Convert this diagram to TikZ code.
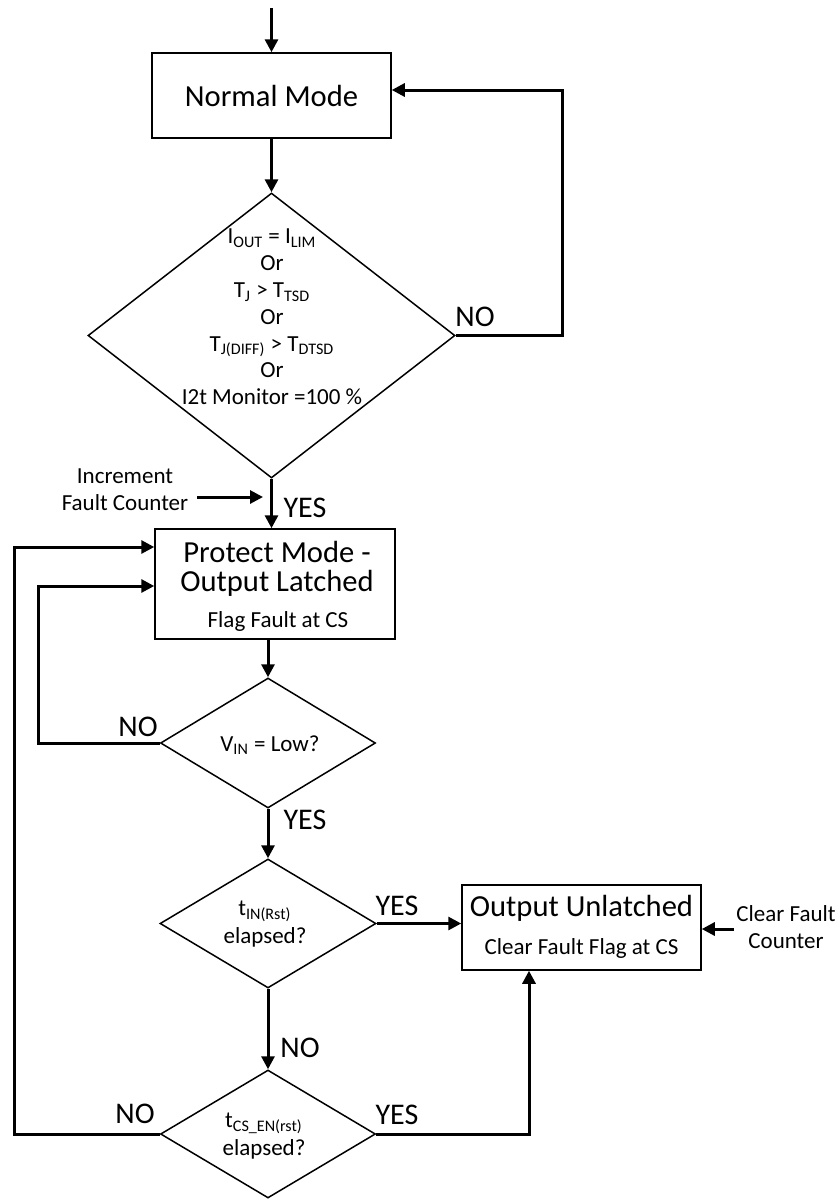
\documentclass[tikz,border=0pt]{standalone}
\usepackage{fontspec}
\setmainfont{Carlito}
\usetikzlibrary{shapes.geometric,arrows.meta,calc}
\begin{document}
\begin{tikzpicture}[x=0.5pt,y=-0.5pt,
  box/.style={draw,line width=0.75pt,rectangle,inner sep=0pt},
  dec/.style={draw,line width=0.75pt,diamond,inner sep=0pt},
  conn/.style={line width=1.5pt,-{Triangle[length=6.5pt,width=6.5pt]}},
  bigtxt/.style={inner sep=0pt,align=center,font=\fontsize{15.3}{18}\selectfont},
  smalltxt/.style={inner sep=0pt,align=center,font=\fontsize{11.5}{13.6}\selectfont},
  lbl/.style={inner sep=0pt,font=\fontsize{15}{18}\selectfont}]
\useasboundingbox (0,0) rectangle (838,1201);

% boxes
\node[box,minimum width=119.5pt,minimum height=42.5pt] (normal) at (271.5,95.5) {};
\node[bigtxt] (normaltxt) at (271.5,96) {Normal Mode};

\node[dec,minimum width=183.5pt,minimum height=142.5pt] (dec1) at (271.5,335.5) {};
\node[smalltxt] (dec1txt) at (272,317) {I\textsubscript{OUT} = I\textsubscript{LIM}\\[-0.2pt]Or\\[-0.2pt]T\textsubscript{J} {>} T\textsubscript{TSD}\\[-0.2pt]Or\\[-0.2pt]T\textsubscript{J(DIFF)} {>} T\textsubscript{DTSD}\\[-0.2pt]Or\\[-0.2pt]I2t Monitor =100 \%};

\node[box,minimum width=120pt,minimum height=55pt] (protect) at (275,584) {};
\node[bigtxt] (p1) at (277,552) {Protect Mode -};
\node[bigtxt] (p2) at (277,583) {Output Latched};
\node[smalltxt] (p3) at (278,621) {Flag Fault at CS};

\node[dec,minimum width=107.5pt,minimum height=65pt] (dec2) at (268,743) {};
\node[smalltxt] (dec2txt) at (270,745) {V\textsubscript{IN} = Low?};

\node[dec,minimum width=108pt,minimum height=64.5pt] (dec3) at (268,923.5) {};
\node[smalltxt] (dec3txt) at (265,924) {t\textsubscript{IN(Rst)}\\elapsed?};

\node[dec,minimum width=107.5pt,minimum height=64pt] (dec4) at (268,1134) {};
\node[smalltxt] (dec4txt) at (264,1136) {t\textsubscript{CS\_EN(rst)}\\elapsed?};

\node[box,minimum width=119.5pt,minimum height=42.5pt] (out) at (581.5,927.5) {};
\node[bigtxt] (o1) at (581.5,908) {Output Unlatched};
\node[smalltxt] (o2) at (581.5,948) {Clear Fault Flag at CS};

% side texts
\node[smalltxt] (inc) at (125,490) {Increment\\Fault Counter};
\node[smalltxt] (clr) at (786,927) {Clear Fault\\Counter};

% coordinates
\coordinate (start) at (271.5,8);
\coordinate (incstart) at (197,497);
\coordinate (incend) at (263,497);

% connectors
\draw[conn] (start) -- (normal.north);
\draw[conn] (normal.south) -- (dec1.north);
\draw[conn] (dec1.east) -- ++(107,0) |- ($(normal.east)+(0,-5.5)$);
\draw[conn] (dec1.south) -- (dec1.south |- protect.north);
\draw[conn] (incstart) -- (incend);
\draw[conn] (protect.south -| dec2.north) -- (dec2.north);
\draw[conn] (dec2.west) -- ++(-121,0) |- ($(protect.west)+(0,2)$);
\draw[conn] (dec2.south) -- (dec3.north);
\draw[conn] (dec3.east) -- (dec3.east -| out.west);
\draw[conn] (dec3.south) -- (dec4.north);
\draw[conn] (dec4.east) -| ($(out.south)+(-52.5,0)$);
\draw[conn] (dec4.west) -- ++(-145,0) |- ($(protect.west)+(0,-37)$);
\draw[conn] ([xshift=-1pt]clr.west |- 0,929) -- (out.east |- 0,929);

% labels
\node[lbl] (no1) at (475,317) {NO};
\node[lbl] (yes1) at (305,508) {YES};
\node[lbl] (no2) at (138,727) {NO};
\node[lbl] (yes2) at (305,820) {YES};
\node[lbl] (yes3) at (397,906) {YES};
\node[lbl] (no3) at (300,1048) {NO};
\node[lbl] (no4) at (135,1114) {NO};
\node[lbl] (yes4) at (397,1115) {YES};
\end{tikzpicture}
\end{document}
